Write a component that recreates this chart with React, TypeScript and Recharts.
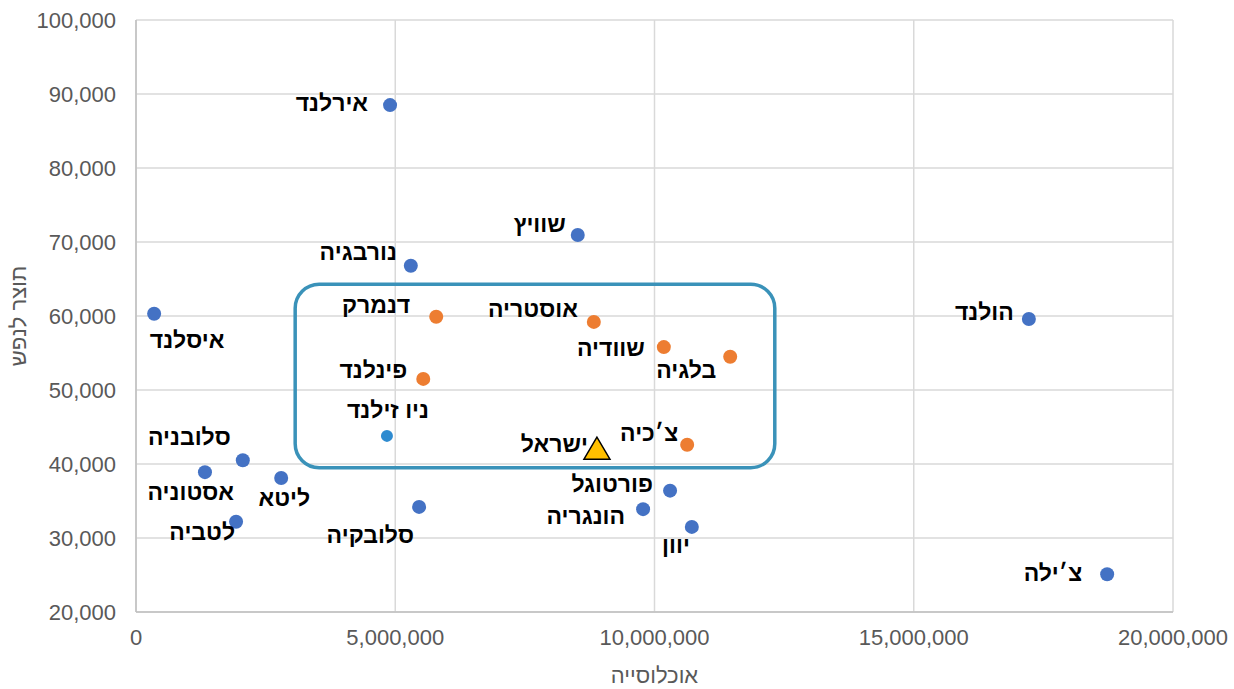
import React from "react";
import {
  ScatterChart,
  Scatter,
  XAxis,
  YAxis,
  CartesianGrid,
  ReferenceArea,
  Label,
} from "recharts";

// population, GDP per capita
const blueCountries = [
  { name: "אירלנד", pop: 4900000, gdp: 88500 },
  { name: "שוויץ", pop: 8520000, gdp: 70950 },
  { name: "נורבגיה", pop: 5300000, gdp: 66800 },
  { name: "איסלנד", pop: 350000, gdp: 60300 },
  { name: "הולנד", pop: 17220000, gdp: 59600 },
  { name: "סלובניה", pop: 2060000, gdp: 40500 },
  { name: "אסטוניה", pop: 1330000, gdp: 38900 },
  { name: "ליטא", pop: 2800000, gdp: 38100 },
  { name: "לטביה", pop: 1930000, gdp: 32200 },
  { name: "סלובקיה", pop: 5460000, gdp: 34200 },
  { name: "פורטוגל", pop: 10300000, gdp: 36400 },
  { name: "הונגריה", pop: 9780000, gdp: 33900 },
  { name: "יוון", pop: 10720000, gdp: 31500 },
  { name: "צ׳ילה", pop: 18730000, gdp: 25100 },
];

const orangeCountries = [
  { name: "דנמרק", pop: 5790000, gdp: 59900 },
  { name: "אוסטריה", pop: 8830000, gdp: 59200 },
  { name: "שוודיה", pop: 10180000, gdp: 55800 },
  { name: "בלגיה", pop: 11460000, gdp: 54500 },
  { name: "פינלנד", pop: 5540000, gdp: 51500 },
  { name: "צ׳כיה", pop: 10630000, gdp: 42600 },
];

const newZealand = [{ name: "ניו זילנד", pop: 4840000, gdp: 43800 }];
const israel = [{ name: "ישראל", pop: 8890000, gdp: 42000 }];

const xTicks = [0, 5000000, 10000000, 15000000, 20000000];
const yTicks = [20000, 30000, 40000, 50000, 60000, 70000, 80000, 90000, 100000];

// label offset from the point: [dx, dy, anchor]
const labelPlace: Record<string, [number, number, string]> = {
  "אירלנד": [-22, -2, "end"],
  "שוויץ": [-12, -11, "end"],
  "נורבגיה": [-14, -14, "end"],
  "איסלנד": [33, 26, "middle"],
  "הולנד": [-15, -7, "end"],
  "סלובניה": [-12, -23, "end"],
  "אסטוניה": [29, 20, "end"],
  "ליטא": [29, 20, "end"],
  "לטביה": [-1, 10, "end"],
  "סלובקיה": [-5, 28, "end"],
  "פורטוגל": [-17, -7, "end"],
  "הונגריה": [-18, 7, "end"],
  "יוון": [-2, 18, "end"],
  "צ׳ילה": [-25, -1, "end"],
  "דנמרק": [-26, -12, "end"],
  "אוסטריה": [-16, -13, "end"],
  "שוודיה": [-19, 1, "end"],
  "בלגיה": [-14, 13, "end"],
  "פינלנד": [-16, -9, "end"],
  "צ׳כיה": [-9, -12, "end"],
  "ניו זילנד": [42, -26, "end"],
  "ישראל": [-9, -5, "end"],
};

const FONT = "Arial, 'Liberation Sans', sans-serif";
const fmt = (v: number) => v.toLocaleString("en-US");

function PointLabel({ cx, cy, name }: { cx: number; cy: number; name: string }) {
  const [dx, dy, anchor] = labelPlace[name] || [0, -12, "middle"];
  return (
    <text
      x={cx + dx}
      y={cy + dy}
      textAnchor={anchor as any}
      dominantBaseline="central"
      fontSize={23}
      fontWeight="bold"
      fill="#000"
      fontFamily={FONT}
    >
      {name}
    </text>
  );
}

const dot = (color: string, r: number) => (p: any) => (
  <g>
    <circle cx={p.cx} cy={p.cy} r={r} fill={color} />
    <PointLabel cx={p.cx} cy={p.cy} name={p.payload.name} />
  </g>
);

const triangle = (p: any) => (
  <g>
    <polygon
      points={`${p.cx},${p.cy - 12} ${p.cx - 13},${p.cy + 10} ${p.cx + 13},${p.cy + 10}`}
      fill="#FFC000"
      stroke="#000"
      strokeWidth={1.5}
    />
    <PointLabel cx={p.cx} cy={p.cy} name={p.payload.name} />
  </g>
);

const roundedBox = (p: any) => (
  <rect
    x={p.x}
    y={p.y}
    width={p.width}
    height={p.height}
    rx={24}
    ry={24}
    fill="none"
    stroke="#3A92B9"
    strokeWidth={3.5}
  />
);

export default function App() {
  return (
    <div style={{ position: "absolute", left: 0, top: 0, background: "#fff" }}>
      <ScatterChart
        width={1234}
        height={689}
        margin={{ top: 20, right: 61, bottom: 0, left: 0 }}
      >
        <CartesianGrid stroke="#d9d9d9" strokeWidth={1.5} />
        <XAxis
          type="number"
          dataKey="pop"
          domain={[0, 20000000]}
          ticks={xTicks}
          tickFormatter={fmt}
          height={77}
          tickLine={false}
          tickSize={15}
          axisLine={{ stroke: "#bfbfbf", strokeWidth: 1.5 }}
          tick={{ fill: "#595959", fontSize: 22, fontFamily: FONT }}
        >
          <Label
            value="אוכלוסייה"
            position="insideBottom"
            offset={6}
            style={{ fill: "#595959", fontSize: 22, fontFamily: FONT }}
          />
        </XAxis>
        <YAxis
          type="number"
          dataKey="gdp"
          domain={[20000, 100000]}
          ticks={yTicks}
          tickFormatter={fmt}
          width={136}
          tickLine={false}
          tickSize={18}
          axisLine={{ stroke: "#bfbfbf", strokeWidth: 1.5 }}
          tick={{ fill: "#595959", fontSize: 22, fontFamily: FONT }}
        >
          <Label
            value="תוצר לנפש"
            angle={-90}
            position="insideLeft"
            offset={18}
            style={{ fill: "#595959", fontSize: 22, fontFamily: FONT, textAnchor: "middle" }}
          />
        </YAxis>
        <ReferenceArea
          x1={3070000}
          x2={12320000}
          y1={39500}
          y2={64300}
          shape={roundedBox}
          ifOverflow="visible"
        />
        <Scatter data={blueCountries} shape={dot("#4472C4", 7)} isAnimationActive={false} />
        <Scatter data={orangeCountries} shape={dot("#ED7D31", 7)} isAnimationActive={false} />
        <Scatter data={newZealand} shape={dot("#2E8BD0", 6)} isAnimationActive={false} />
        <Scatter data={israel} shape={triangle} isAnimationActive={false} />
      </ScatterChart>
    </div>
  );
}
